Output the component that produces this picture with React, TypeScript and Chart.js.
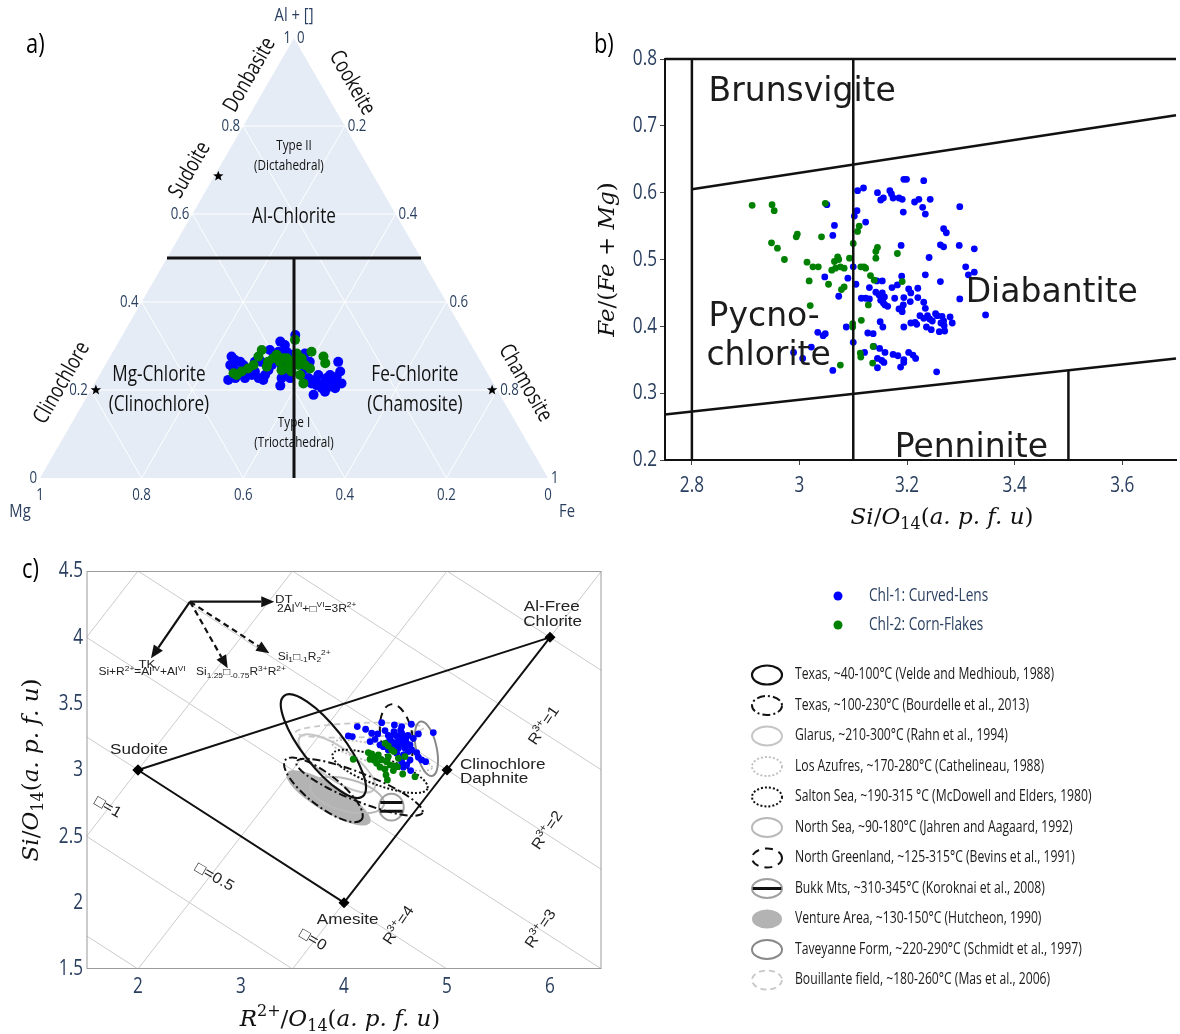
import React, { useEffect, useRef } from 'react';
import { Chart, registerables } from 'chart.js';
Chart.register(...registerables);

const NARROW = "'Open Sans', 'Noto Sans', sans-serif";
const SX = 0.78; // condensed look of the original labels
const MATH = "'DejaVu Serif', 'Liberation Serif', serif";
const ARIAL = "'Liberation Sans', Arial, 'DejaVu Sans', sans-serif";
const GEO = "'DejaVu Sans', 'Liberation Sans', sans-serif";
const AXIS_BLUE = '#2a3f5f';
const BLUE = '#0000ff';
const GREEN = '#008000';

// ---------------- panel a : ternary [Al+[], Mg, Fe] ----------------
const TERN_TICKS = [0, 0.2, 0.4, 0.6, 0.8, 1];
const TERN_GRID = [0.2, 0.4, 0.6, 0.8];
const TERN_CHL1 = [
  [0.276,0.485,0.239],[0.268,0.482,0.250],[0.264,0.474,0.262],[0.257,0.497,0.246],[0.249,0.495,0.256],
  [0.223,0.518,0.259],[0.227,0.502,0.271],[0.234,0.493,0.273],[0.257,0.471,0.272],[0.249,0.469,0.282],
  [0.238,0.471,0.291],[0.227,0.483,0.290],[0.234,0.466,0.300],[0.242,0.456,0.302],[0.227,0.456,0.317],
  [0.223,0.449,0.328],[0.234,0.440,0.326],[0.245,0.428,0.327],[0.257,0.415,0.328],[0.272,0.405,0.323],
  [0.287,0.387,0.326],[0.310,0.372,0.318],[0.302,0.367,0.331],[0.287,0.371,0.342],[0.257,0.396,0.347],
  [0.242,0.393,0.365],[0.227,0.411,0.362],[0.210,0.422,0.368],[0.227,0.394,0.379],[0.325,0.335,0.340],
  [0.264,0.363,0.373],[0.234,0.368,0.398],[0.249,0.354,0.397],[0.227,0.358,0.415],[0.215,0.358,0.427],
  [0.189,0.367,0.444],[0.211,0.350,0.439],[0.234,0.335,0.431],[0.204,0.343,0.453],[0.196,0.341,0.463],
  [0.227,0.322,0.451],[0.234,0.312,0.454],[0.219,0.313,0.468],[0.230,0.301,0.469],[0.264,0.281,0.455],
  [0.242,0.288,0.470],[0.215,0.299,0.486],[0.204,0.317,0.479],[0.208,0.325,0.467],[0.215,0.335,0.450],
  [0.223,0.347,0.430],[0.283,0.337,0.380],[0.276,0.350,0.374],[0.264,0.337,0.399],[0.280,0.364,0.356],
  [0.276,0.399,0.325],[0.264,0.432,0.304],[0.291,0.402,0.307],[0.264,0.445,0.291],[0.242,0.492,0.266],
];
const TERN_CHL2 = [
  [0.238,0.500,0.262],[0.234,0.496,0.270],[0.242,0.482,0.276],[0.249,0.466,0.285],[0.257,0.451,0.292],
  [0.276,0.432,0.292],[0.291,0.418,0.291],[0.253,0.427,0.320],[0.264,0.419,0.317],[0.272,0.405,0.323],
  [0.280,0.394,0.326],[0.264,0.396,0.340],[0.272,0.385,0.343],[0.249,0.393,0.358],[0.261,0.377,0.362],
  [0.264,0.369,0.367],[0.314,0.341,0.345],[0.283,0.353,0.364],[0.257,0.363,0.380],[0.234,0.371,0.395],
  [0.215,0.374,0.411],[0.257,0.350,0.393],[0.287,0.322,0.391],[0.249,0.344,0.407],[0.276,0.304,0.420],
  [0.261,0.308,0.431],[0.242,0.384,0.374],[0.272,0.378,0.350],[0.276,0.357,0.367],[0.272,0.349,0.379],
  [0.245,0.402,0.353],
];
const TERN_DIVIDERS = [
  [[0.5, 0.5, 0], [0.5, 0, 0.5]],
  [[0.5, 0.25, 0.25], [0, 0.5, 0.5]],
];
const TERN_STARS = [[0.686, 0.306, 0.008], [0.2, 0.79, 0.01], [0.2, 0.01, 0.79]];
// label anchors in the triangle's cartesian frame (x along base 0..1, y = Al height 0..1)
const TERN_LABELS = [
  { t: 'Donbasite', x: 0.413, y: 0.916, rot: -60, size: 22 },
  { t: 'Cookeite', x: 0.614, y: 0.898, rot: 60, size: 22 },
  { t: 'Sudoite', x: 0.295, y: 0.700, rot: -60, size: 22 },
  { t: 'Clinochlore', x: 0.043, y: 0.216, rot: -60, size: 22 },
  { t: 'Chamosite', x: 0.955, y: 0.216, rot: 60, size: 22 },
  { t: 'Type II', x: 0.500, y: 0.755, rot: 0, size: 15 },
  { t: '(Dictahedral)', x: 0.490, y: 0.709, rot: 0, size: 15 },
  { t: 'Al-Chlorite', x: 0.500, y: 0.593, rot: 0, size: 22 },
  { t: 'Mg-Chlorite', x: 0.234, y: 0.234, rot: 0, size: 22 },
  { t: '(Clinochlore)', x: 0.234, y: 0.166, rot: 0, size: 22 },
  { t: 'Fe-Chlorite', x: 0.738, y: 0.234, rot: 0, size: 22 },
  { t: '(Chamosite)', x: 0.738, y: 0.166, rot: 0, size: 22 },
  { t: 'Type I', x: 0.500, y: 0.125, rot: 0, size: 15 },
  { t: '(Trioctahedral)', x: 0.500, y: 0.080, rot: 0, size: 15 },
];

// ---------------- panel b : Si vs Fe/(Fe+Mg) ----------------
const B_XTICKS = [2.8, 3.0, 3.2, 3.4, 3.6];
const B_YTICKS = [0.2, 0.3, 0.4, 0.5, 0.6, 0.7, 0.8];
const B_CHL1 = [
  [3.194,0.620],[3.199,0.620],[3.231,0.618],[3.108,0.603],[3.119,0.607],[3.145,0.600],[3.168,0.603],[3.171,0.598],
  [3.174,0.592],[3.151,0.589],[3.156,0.592],[3.185,0.592],[3.191,0.590],[3.214,0.586],[3.222,0.590],[3.243,0.590],
  [3.193,0.571],[3.229,0.578],[3.234,0.568],[3.298,0.579],[3.107,0.573],[3.102,0.565],[3.123,0.556],[3.065,0.551],
  [3.062,0.536],[3.051,0.582],[3.268,0.546],[3.273,0.540],[3.262,0.522],[3.268,0.519],[3.189,0.521],[3.297,0.521],
  [3.325,0.516],[3.241,0.503],[3.309,0.489],[3.325,0.481],[3.314,0.477],[3.234,0.477],[3.262,0.467],[3.298,0.441],
  [3.346,0.417],[3.047,0.474],[3.073,0.445],[3.090,0.472],[3.100,0.489],[3.105,0.463],[3.190,0.475],[3.144,0.468],
  [3.154,0.468],[3.130,0.458],[3.172,0.458],[3.182,0.462],[3.115,0.442],[3.123,0.442],[3.130,0.441],[3.142,0.451],
  [3.148,0.447],[3.154,0.450],[3.158,0.444],[3.151,0.439],[3.156,0.435],[3.164,0.430],[3.159,0.432],[3.177,0.442],
  [3.194,0.443],[3.203,0.456],[3.207,0.450],[3.206,0.437],[3.193,0.432],[3.185,0.426],[3.191,0.422],[3.190,0.427],
  [3.220,0.457],[3.220,0.443],[3.231,0.436],[3.234,0.427],[3.238,0.416],[3.224,0.416],[3.231,0.412],[3.242,0.411],
  [3.253,0.419],[3.256,0.416],[3.247,0.408],[3.265,0.415],[3.268,0.408],[3.263,0.405],[3.269,0.401],[3.280,0.414],
  [3.284,0.405],[3.260,0.392],[3.270,0.393],[3.245,0.395],[3.236,0.399],[3.218,0.403],[3.215,0.406],[3.207,0.405],
  [3.194,0.399],[3.150,0.407],[3.155,0.399],[3.127,0.390],[3.137,0.389],[3.087,0.399],[3.100,0.376],[3.048,0.389],
  [3.044,0.386],[3.034,0.391],[3.022,0.369],[2.989,0.361],[3.006,0.352],[3.062,0.334],[3.121,0.361],[3.138,0.370],
  [3.149,0.367],[3.159,0.361],[3.145,0.352],[3.153,0.349],[3.157,0.346],[3.145,0.338],[3.174,0.358],[3.183,0.356],
  [3.194,0.350],[3.188,0.339],[3.203,0.361],[3.211,0.357],[3.216,0.352],[3.194,0.346],[3.255,0.332],
];
const B_CHL2 = [
  [2.912,0.581],[2.949,0.582],[2.953,0.573],[2.948,0.525],[2.959,0.517],[3.048,0.584],[2.996,0.538],[2.994,0.534],
  [3.041,0.534],[2.972,0.500],[3.014,0.496],[3.025,0.489],[3.035,0.489],[3.018,0.468],[3.054,0.463],[3.060,0.484],
  [3.067,0.487],[3.076,0.489],[3.065,0.497],[3.071,0.504],[3.073,0.500],[3.083,0.487],[3.093,0.502],[3.078,0.455],
  [3.083,0.459],[3.100,0.524],[3.108,0.542],[3.111,0.550],[3.020,0.431],[3.114,0.489],[3.120,0.489],[3.123,0.487],
  [3.132,0.476],[3.139,0.469],[3.128,0.432],[3.115,0.409],[3.099,0.404],[3.099,0.399],[3.113,0.360],[3.114,0.354],
  [3.136,0.345],[3.137,0.370],[3.076,0.342],[3.142,0.512],[3.145,0.518],[3.142,0.502],[3.182,0.509],[3.191,0.467],
];
const B_FIELD_LINES = [
  [[2.8, 0.2], [2.8, 0.8]],
  [[3.1, 0.2], [3.1, 0.8]],
  [[3.5, 0.2], [3.5, 0.3335]],
  [[2.8, 0.605], [3.7, 0.716]],
  [[2.75, 0.268], [3.7, 0.352]],
  [[2.75, 0.8], [3.7, 0.8]],
];
const B_FIELD_NAMES = [
  { t: 'Brunsvigite', x: 2.831, y: 0.737 },
  { t: 'Diabantite', x: 3.309, y: 0.437 },
  { t: 'Pycno-', x: 2.831, y: 0.400 },
  { t: 'chlorite', x: 2.827, y: 0.342 },
  { t: 'Penninite', x: 3.177, y: 0.204 },
];

// ---------------- panel c : R2+ vs Si ----------------
const C_XTICKS = [2, 3, 4, 5, 6];
const C_YTICKS = [1.5, 2, 2.5, 3, 3.5, 4, 4.5];
const C_CHL1 = [
  [4.129,3.327],[4.210,3.307],[4.042,3.257],[4.081,3.252],[4.269,3.277],[4.327,3.272],[4.366,3.357],[4.398,3.297],
  [4.489,3.340],[4.560,3.327],[4.654,3.345],[4.867,3.282],[4.722,3.272],[4.253,3.214],[4.301,3.231],[4.350,3.189],
  [4.447,3.239],[4.511,3.257],[4.576,3.252],[4.544,3.214],[4.608,3.201],[4.463,3.176],[4.528,3.164],[4.592,3.164],
  [4.641,3.189],[4.673,3.239],[4.485,3.289],[4.560,3.277],[4.421,3.206],[4.511,3.126],[4.576,3.114],[4.625,3.139],
  [4.657,3.151],[4.706,3.131],[4.754,3.076],[4.793,3.063],[4.722,3.096],[4.641,3.076],[4.608,3.038],[4.576,3.021],
  [4.647,2.996],[4.430,3.151],[4.382,3.176],[4.560,3.063],[4.500,3.200],[4.530,3.230],[4.470,3.210],[4.580,3.190],
  [4.490,3.270],[4.550,3.300],[4.620,3.260],[4.430,3.260],[4.520,3.180],[4.600,3.230],
];
const C_CHL2 = [
  [4.090,3.081],[4.236,3.131],[4.269,3.121],[4.253,3.081],[4.311,3.096],[4.333,3.113],[4.398,3.201],[4.430,3.181],
  [4.463,3.151],[4.485,3.139],[4.366,3.076],[4.414,3.063],[4.350,3.021],[4.398,3.006],[4.447,3.038],[4.495,3.031],
  [4.528,3.088],[4.592,3.101],[4.408,2.963],[4.421,2.925],[4.570,2.970],[4.689,2.950],[4.317,3.051],[4.291,3.076],
  [4.430,3.101],[4.518,3.025],[4.479,2.996],
];
// end-members: Sudoite, Al-free chlorite, Clinochlore/Daphnite, Amesite (closing back to Sudoite)
const C_ENDMEMBERS = [[2, 3], [6, 4], [5, 3], [4, 2], [2, 3]];
const C_R3_LEVELS = [0, 1, 2, 3, 4, 5, 6];
const C_VAC_LEVELS = [0, 0.5, 1, 1.5];
const C_ARROW_ORIGIN = [2.505, 4.269];
const C_ARROWS = [
  { to: [3.323, 4.269], dashed: false },
  { to: [2.126, 3.842], dashed: false },
  { to: [2.871, 3.767], dashed: true },
  { to: [3.275, 3.880], dashed: true },
];
const C_ELLIPSES = [
  { key: 'venture', cx: 3.85, cy: 2.79, a: 0.47, b: 0.135, rot: 31 },
  { key: 'glarus', cx: 3.93, cy: 3.05, a: 0.44, b: 0.155, rot: 35 },
  { key: 'northsea', cx: 4.03, cy: 2.81, a: 0.37, b: 0.155, rot: 15 },
  { key: 'bouillante', cx: 4.15, cy: 3.30, a: 0.62, b: 0.07, rot: -2 },
  { key: 'azufres', cx: 4.37, cy: 3.11, a: 0.50, b: 0.09, rot: 14 },
  { key: 'taveyanne', cx: 4.80, cy: 3.16, a: 0.10, b: 0.27, rot: -12 },
  { key: 'bukk', cx: 4.46, cy: 2.72, a: 0.12, b: 0.13, rot: 0 },
  { key: 'texas2', cx: 4.15, cy: 2.87, a: 0.66, b: 0.135, rot: 22 },
  { key: 'texas2', cx: 3.80, cy: 2.85, a: 0.47, b: 0.155, rot: 38 },
  { key: 'salton', cx: 4.35, cy: 2.99, a: 0.49, b: 0.135, rot: 20 },
  { key: 'greenland', cx: 4.51, cy: 3.25, a: 0.155, b: 0.32, rot: -10 },
  { key: 'texas1', cx: 3.80, cy: 3.18, a: 0.62, b: 0.2, rot: 52 },
];
const C_LEGEND = [
  { key: 'texas1', t: 'Texas, ~40-100°C (Velde and Medhioub, 1988)' },
  { key: 'texas2', t: 'Texas, ~100-230°C (Bourdelle et al., 2013)' },
  { key: 'glarus', t: 'Glarus, ~210-300°C (Rahn et al., 1994)' },
  { key: 'azufres', t: 'Los Azufres, ~170-280°C (Cathelineau, 1988)' },
  { key: 'salton', t: 'Salton Sea, ~190-315 °C (McDowell and Elders, 1980)' },
  { key: 'northsea', t: 'North Sea, ~90-180°C (Jahren and Aagaard, 1992)' },
  { key: 'greenland', t: 'North Greenland, ~125-315°C (Bevins et al., 1991)' },
  { key: 'bukk', t: 'Bukk Mts, ~310-345°C (Koroknai et al., 2008)' },
  { key: 'venture', t: 'Venture Area, ~130-150°C (Hutcheon, 1990)' },
  { key: 'taveyanne', t: 'Taveyanne Form, ~220-290°C (Schmidt et al., 1997)' },
  { key: 'bouillante', t: 'Bouillante field, ~180-260°C (Mas et al., 2006)' },
];
const C_SERIES_NAMES = ['Chl-1: Curved-Lens', 'Chl-2: Corn-Flakes'];

type Part = { t: string; s?: 'sub' | 'sup'; it?: boolean };

const STYLE: Record<string, any> = {
  texas1: { stroke: '#111', lw: 2.2, dash: [] },
  texas2: { stroke: '#111', lw: 2, dash: [8, 3, 2, 3] },
  glarus: { stroke: '#c6c6c6', lw: 2, dash: [] },
  azufres: { stroke: '#bdbdbd', lw: 1.8, dash: [2, 2] },
  salton: { stroke: '#111', lw: 2, dash: [2, 2] },
  northsea: { stroke: '#b9b9b9', lw: 2, dash: [] },
  greenland: { stroke: '#111', lw: 2, dash: [8, 6] },
  bukk: { stroke: '#a0a0a0', lw: 2, dash: [], bar: true },
  venture: { fill: '#b3b3b3' },
  taveyanne: { stroke: '#888', lw: 2, dash: [] },
  bouillante: { stroke: '#c8c8c8', lw: 1.8, dash: [6, 4] },
};

function ternPt(t: number[]) {
  const s = t[0] + t[1] + t[2];
  const al = t[0] / s, fe = t[2] / s;
  return { x: fe + al / 2, y: al };
}

function txt(ctx: any, s: string, x: number, y: number, o: any) {
  ctx.save();
  ctx.translate(x, y);
  if (o.rot) ctx.rotate((o.rot * Math.PI) / 180);
  if (o.sx) ctx.scale(o.sx, 1);
  ctx.font = o.font;
  ctx.fillStyle = o.color || '#000';
  ctx.textAlign = o.align || 'center';
  ctx.textBaseline = o.baseline || 'middle';
  ctx.fillText(s, 0, 0);
  ctx.restore();
}

function narrow(ctx: any, s: string, x: number, y: number, size: number, color: string, align = 'center', rot = 0) {
  txt(ctx, s, x, y, { font: `${size}px ${NARROW}`, color, align, rot, sx: SX });
}

function rich(ctx: any, parts: Part[], x: number, y: number, size: number, family: string, color: string, align: string, rot = 0, sx = 1) {
  ctx.save();
  ctx.translate(x, y);
  if (rot) ctx.rotate((rot * Math.PI) / 180);
  ctx.scale(sx, 1);
  ctx.fillStyle = color;
  ctx.textBaseline = 'alphabetic';
  ctx.textAlign = 'left';
  const fontOf = (p: Part) => `${p.it ? 'italic ' : ''}${p.s ? Math.round(size * 0.68) : size}px ${family}`;
  let w = 0;
  for (const p of parts) { ctx.font = fontOf(p); w += ctx.measureText(p.t).width; }
  let cx = align === 'center' ? -w / 2 : 0;
  for (const p of parts) {
    ctx.font = fontOf(p);
    const dy = p.s === 'sub' ? size * 0.22 : p.s === 'sup' ? -size * 0.42 : 0;
    ctx.fillText(p.t, cx, dy + size * 0.35);
    cx += ctx.measureText(p.t).width;
  }
  ctx.restore();
}

function drawEllipseShape(ctx: any, key: string, x: number, y: number, rx: number, ry: number, rot: number, bars: number[]) {
  const st = STYLE[key];
  ctx.save();
  ctx.translate(x, y);
  ctx.rotate((rot * Math.PI) / 180);
  ctx.beginPath();
  ctx.ellipse(0, 0, rx, ry, 0, 0, Math.PI * 2);
  if (st.fill) { ctx.fillStyle = st.fill; ctx.fill(); }
  if (st.stroke) {
    ctx.strokeStyle = st.stroke; ctx.lineWidth = st.lw; ctx.setLineDash(st.dash || []); ctx.stroke();
  }
  if (st.bar) {
    ctx.setLineDash([]);
    ctx.strokeStyle = '#111'; ctx.lineWidth = 3;
    for (const f of bars) {
      const yy = f * ry;
      const hw = rx * Math.sqrt(Math.max(0, 1 - f * f)) * 0.95;
      ctx.beginPath(); ctx.moveTo(-hw, yy); ctx.lineTo(hw, yy); ctx.stroke();
    }
  }
  ctx.restore();
}

function mathTitle(kind: string): Part[] {
  if (kind === 'si') return [{ t: 'Si', it: true }, { t: '/' }, { t: 'O', it: true }, { t: '14', s: 'sub' }, { t: '(' }, { t: 'a. p. f. u', it: true }, { t: ')' }];
  if (kind === 'r2') return [{ t: 'R', it: true }, { t: '2+', s: 'sup' }, { t: '/' }, { t: 'O', it: true }, { t: '14', s: 'sub' }, { t: '(' }, { t: 'a. p. f. u', it: true }, { t: ')' }];
  return [{ t: 'Fe', it: true }, { t: '/(' }, { t: 'Fe', it: true }, { t: ' + ' }, { t: 'Mg', it: true }, { t: ')' }];
}

const baseOpts = {
  animation: false as const,
  responsive: false,
  events: [] as any[],
  plugins: { legend: { display: false }, tooltip: { enabled: false } },
};

function pts(arr: number[][]) { return arr.map((p) => ({ x: p[0], y: p[1] })); }

function makeTernary(canvas: HTMLCanvasElement) {
  const plugin = {
    id: 'ternBg',
    beforeDatasetsDraw(chart: any) {
      const { ctx } = chart;
      const sx = chart.scales.x, sy = chart.scales.y;
      const pix = (t: number[]) => { const p = ternPt(t); return [sx.getPixelForValue(p.x), sy.getPixelForValue(p.y)]; };
      ctx.save();
      const A = pix([1, 0, 0]), M = pix([0, 1, 0]), F = pix([0, 0, 1]);
      ctx.beginPath(); ctx.moveTo(A[0], A[1]); ctx.lineTo(M[0], M[1]); ctx.lineTo(F[0], F[1]); ctx.closePath();
      ctx.fillStyle = '#e5ecf6'; ctx.fill();
      ctx.strokeStyle = '#ffffff'; ctx.lineWidth = 1;
      const seg = (p: number[], q: number[]) => { ctx.beginPath(); ctx.moveTo(p[0], p[1]); ctx.lineTo(q[0], q[1]); ctx.stroke(); };
      for (const k of TERN_GRID) {
        seg(pix([k, 1 - k, 0]), pix([k, 0, 1 - k]));
        seg(pix([0, k, 1 - k]), pix([1 - k, k, 0]));
        seg(pix([0, 1 - k, k]), pix([1 - k, 0, k]));
      }
      const fmt = (k: number) => (k === 0 ? '0' : k === 1 ? '1' : k.toFixed(1));
      for (const k of TERN_TICKS) {
        const a = pix([k, 1 - k, 0]); narrow(ctx, fmt(k), a[0] - 3, a[1], 17, AXIS_BLUE, 'right');
        const f = pix([1 - k, 0, k]); narrow(ctx, fmt(k), f[0] + 3, f[1], 17, AXIS_BLUE, 'left');
        const m = pix([0, k, 1 - k]); narrow(ctx, fmt(k), m[0], m[1] + 17, 17, AXIS_BLUE, 'center');
      }
      narrow(ctx, 'Al + []', A[0], A[1] - 22, 19, AXIS_BLUE);
      narrow(ctx, 'Mg', M[0] - 20, M[1] + 34, 19, AXIS_BLUE);
      narrow(ctx, 'Fe', F[0] + 19, F[1] + 34, 19, AXIS_BLUE);
      for (const l of TERN_LABELS) {
        narrow(ctx, l.t, sx.getPixelForValue(l.x), sy.getPixelForValue(l.y), l.size, '#111', 'center', l.rot);
      }
      narrow(ctx, 'a)', 26, 45, 28, '#000', 'left');
      ctx.restore();
    },
    afterDatasetsDraw(chart: any) {
      const { ctx } = chart;
      const sx = chart.scales.x, sy = chart.scales.y;
      ctx.save();
      ctx.fillStyle = '#000';
      for (const s of TERN_STARS) {
        const p = ternPt(s);
        const cx = sx.getPixelForValue(p.x), cy = sy.getPixelForValue(p.y);
        ctx.beginPath();
        for (let i = 0; i < 10; i++) {
          const r = i % 2 === 0 ? 5.5 : 2.3;
          const ang = -Math.PI / 2 + (i * Math.PI) / 5;
          const X = cx + r * Math.cos(ang), Y = cy + r * Math.sin(ang);
          if (i === 0) ctx.moveTo(X, Y); else ctx.lineTo(X, Y);
        }
        ctx.closePath(); ctx.fill();
      }
      ctx.restore();
    },
  };
  const lineSets = TERN_DIVIDERS.map((d) => ({
    data: d.map((t) => ternPt(t)), showLine: true, borderColor: '#111', borderWidth: 3, pointRadius: 0, order: 0,
  }));
  return new Chart(canvas, {
    type: 'scatter',
    data: {
      datasets: [
        ...lineSets,
        { data: TERN_CHL2.map(ternPt), pointBackgroundColor: GREEN, pointBorderWidth: 0, pointRadius: 5, order: 1 },
        { data: TERN_CHL1.map(ternPt), pointBackgroundColor: BLUE, pointBorderWidth: 0, pointRadius: 5, order: 2 },
      ] as any,
    },
    options: {
      ...baseOpts,
      layout: { padding: { left: 40, right: 42, top: 38, bottom: 52 } },
      scales: {
        x: { type: 'linear', min: 0, max: 1, display: false },
        y: { type: 'linear', min: 0, max: 1, display: false },
      },
    } as any,
    plugins: [plugin],
  });
}

function makeB(canvas: HTMLCanvasElement) {
  const plugin = {
    id: 'bDeco',
    afterDatasetsDraw(chart: any) {
      const { ctx } = chart;
      const sx = chart.scales.x, sy = chart.scales.y;
      ctx.save();
      for (const n of B_FIELD_NAMES) {
        txt(ctx, n.t, sx.getPixelForValue(n.x), sy.getPixelForValue(n.y), { font: `33px ${GEO}`, color: '#1c1c1c', align: 'left', baseline: 'alphabetic' });
      }
      ctx.restore();
    },
    afterDraw(chart: any) {
      const { ctx, chartArea } = chart;
      const sx = chart.scales.x, sy = chart.scales.y;
      for (const v of B_XTICKS) narrow(ctx, String(Math.round(v * 10) / 10), sx.getPixelForValue(v), 486, 22, AXIS_BLUE);
      for (const v of B_YTICKS) narrow(ctx, v.toFixed(1), 67, sy.getPixelForValue(v), 22, AXIS_BLUE, 'right');
      rich(ctx, mathTitle('si'), 352, 516, 23, MATH, '#111', 'center');
      rich(ctx, mathTitle('fe'), 16, (chartArea.top + chartArea.bottom) / 2, 23, MATH, '#111', 'center', -90);
      narrow(ctx, 'b)', 4, 45, 28, '#000', 'left');
    },
  };
  const lineSets = B_FIELD_LINES.map((l) => ({
    data: pts(l), showLine: true, borderColor: '#111', borderWidth: 2.5, pointRadius: 0, order: 0, clip: 4,
  }));
  return new Chart(canvas, {
    type: 'scatter',
    data: {
      datasets: [
        ...lineSets,
        { data: pts(B_CHL2), pointBackgroundColor: GREEN, pointBorderWidth: 0, pointRadius: 3.4, order: 1 },
        { data: pts(B_CHL1), pointBackgroundColor: BLUE, pointBorderWidth: 0, pointRadius: 3.4, order: 2 },
      ] as any,
    },
    options: {
      ...baseOpts,
      layout: { padding: { left: 0, right: 0, top: 59, bottom: 0 } },
      scales: {
        x: {
          type: 'linear', min: 2.75, max: 3.7,
          afterBuildTicks: (ax: any) => { ax.ticks = B_XTICKS.map((v) => ({ value: v })); },
          afterFit: (ax: any) => { ax.height = 70; },
          ticks: { display: false },
          grid: { display: true, drawOnChartArea: false, drawTicks: true, tickLength: 5, color: '#444' },
          border: { display: true, color: '#111', width: 2 },
        },
        y: {
          type: 'linear', min: 0.2, max: 0.8,
          afterBuildTicks: (ax: any) => { ax.ticks = B_YTICKS.map((v) => ({ value: v })); },
          afterFit: (ax: any) => { ax.width = 75; },
          ticks: { display: false },
          grid: { display: true, drawOnChartArea: false, drawTicks: true, tickLength: 5, color: '#444' },
          border: { display: true, color: '#111', width: 2 },
        },
      },
    } as any,
    plugins: [plugin],
  });
}

function makeC(canvas: HTMLCanvasElement) {
  const plugin = {
    id: 'cDeco',
    beforeDatasetsDraw(chart: any) {
      const { ctx, chartArea: ca } = chart;
      const sx = chart.scales.x, sy = chart.scales.y;
      const X = (v: number) => sx.getPixelForValue(v), Y = (v: number) => sy.getPixelForValue(v);
      const ux = X(1) - X(0);
      ctx.save();
      ctx.beginPath(); ctx.rect(ca.left, ca.top, ca.width, ca.height); ctx.clip();
      // iso-R3+ and iso-vacancy lines (charge balance on O10(OH)8)
      ctx.strokeStyle = '#cbcbcb'; ctx.lineWidth = 1;
      const seg = (x0: number, y0: number, x1: number, y1: number) => { ctx.beginPath(); ctx.moveTo(X(x0), Y(y0)); ctx.lineTo(X(x1), Y(y1)); ctx.stroke(); };
      for (const k of C_R3_LEVELS) { const f = (r: number) => (28 - 3 * k) / 4 - r / 2; seg(1.5, f(1.5), 6.5, f(6.5)); }
      for (const k of C_VAC_LEVELS) { const f = (r: number) => r + 3 * k - 2; seg(1.5, f(1.5), 6.5, f(6.5)); }
      for (const e of C_ELLIPSES) {
        drawEllipseShape(ctx, e.key, X(e.cx), Y(e.cy), e.a * ux, e.b * ux, e.rot, [-0.35, 0.3]);
      }
      const o = C_ARROW_ORIGIN;
      for (const a of C_ARROWS) {
        const x0 = X(o[0]), y0 = Y(o[1]), x1 = X(a.to[0]), y1 = Y(a.to[1]);
        const ang = Math.atan2(y1 - y0, x1 - x0);
        const hl = 13, hw = 5.5;
        const bx = x1 - hl * Math.cos(ang), by = y1 - hl * Math.sin(ang);
        ctx.strokeStyle = '#111'; ctx.lineWidth = 2.2; ctx.setLineDash(a.dashed ? [6, 4] : []);
        ctx.beginPath(); ctx.moveTo(x0, y0); ctx.lineTo(bx, by); ctx.stroke();
        ctx.setLineDash([]); ctx.fillStyle = '#111';
        ctx.beginPath(); ctx.moveTo(x1, y1);
        ctx.lineTo(bx + hw * Math.sin(ang), by - hw * Math.cos(ang));
        ctx.lineTo(bx - hw * Math.sin(ang), by + hw * Math.cos(ang));
        ctx.closePath(); ctx.fill();
      }
      const lf = `14px ${ARIAL}`;
      const col = '#222';
      txt(ctx, 'Sudoite', X(2.010), Y(3.151), { font: lf, color: col, sx: 1.22 });
      txt(ctx, 'Al-Free', X(6.017), Y(4.226), { font: lf, color: col, sx: 1.22 });
      txt(ctx, 'Chlorite', X(6.026), Y(4.118), { font: lf, color: col, sx: 1.22 });
      txt(ctx, 'Clinochlore', X(5.126), Y(3.038), { font: lf, color: col, sx: 1.22, align: 'left' });
      txt(ctx, 'Daphnite', X(5.126), Y(2.930), { font: lf, color: col, sx: 1.22, align: 'left' });
      txt(ctx, 'Amesite', X(4.036), Y(1.870), { font: lf, color: col, sx: 1.22 });
      const vf = `15px ${ARIAL}`;
      txt(ctx, '\u25A1=1', X(1.706), Y(2.719), { font: vf, color: col, rot: 30, sx: 1.1 });
      txt(ctx, '\u25A1=0.5', X(2.741), Y(2.192), { font: vf, color: col, rot: 30, sx: 1.1 });
      txt(ctx, '\u25A1=0', X(3.696), Y(1.719), { font: vf, color: col, rot: 30, sx: 1.1 });
      const r3 = (n: string): Part[] => [{ t: 'R' }, { t: '3+', s: 'sup' }, { t: '=' + n }];
      rich(ctx, r3('1'), X(5.935), Y(3.339), 15, ARIAL, col, 'center', -56, 1.1);
      rich(ctx, r3('2'), X(5.968), Y(2.548), 15, ARIAL, col, 'center', -56, 1.1);
      rich(ctx, r3('3'), X(5.903), Y(1.807), 15, ARIAL, col, 'center', -56, 1.1);
      rich(ctx, r3('4'), X(4.524), Y(1.832), 15, ARIAL, col, 'center', -56, 1.1);
      const sf = 10;
      rich(ctx, [{ t: 'DT' }], X(3.330), Y(4.289), 11, ARIAL, col, 'left', 0, 1.2);
      rich(ctx, [{ t: '2Al' }, { t: 'VI', s: 'sup' }, { t: '+\u25A1' }, { t: 'VI', s: 'sup' }, { t: '=3R' }, { t: '2+', s: 'sup' }], X(3.350), Y(4.221), sf, ARIAL, col, 'left', 0, 1.2);
      rich(ctx, [{ t: 'TK' }], X(2.087), Y(3.799), 11, ARIAL, col, 'center', 0, 1.2);
      rich(ctx, [{ t: 'Si+R' }, { t: '2+', s: 'sup' }, { t: '=Al' }, { t: 'IV', s: 'sup' }, { t: '+Al' }, { t: 'VI', s: 'sup' }], X(2.039), Y(3.739), sf, ARIAL, col, 'center', 0, 1.2);
      rich(ctx, [{ t: 'Si' }, { t: '1.25', s: 'sub' }, { t: '\u25A1' }, { t: '-0.75', s: 'sub' }, { t: 'R' }, { t: '3+', s: 'sup' }, { t: 'R' }, { t: '2+', s: 'sup' }], X(2.563), Y(3.739), sf, ARIAL, col, 'left', 0, 1.2);
      rich(ctx, [{ t: 'Si' }, { t: '1', s: 'sub' }, { t: '\u25A1' }, { t: '-1', s: 'sub' }, { t: 'R' }, { t: '2', s: 'sub' }, { t: '2+', s: 'sup' }], X(3.356), Y(3.859), sf, ARIAL, col, 'left', 0, 1.2);
      ctx.restore();
      ctx.save();
      ctx.strokeStyle = '#9a9a9a'; ctx.lineWidth = 1;
      ctx.strokeRect(ca.left + 0.5, ca.top + 0.5, ca.width - 1, ca.height - 1);
      ctx.restore();
    },
    afterDraw(chart: any) {
      const { ctx, chartArea: ca } = chart;
      const sx = chart.scales.x, sy = chart.scales.y;
      for (const v of C_XTICKS) narrow(ctx, String(v), sx.getPixelForValue(v), 447, 22, AXIS_BLUE);
      for (const v of C_YTICKS) narrow(ctx, String(v), 83, sy.getPixelForValue(v), 22, AXIS_BLUE, 'right');
      rich(ctx, mathTitle('r2'), (ca.left + ca.right) / 2 - 4, 478, 23, MATH, '#111', 'center');
      rich(ctx, mathTitle('si'), 30, (ca.top + ca.bottom) / 2, 23, MATH, '#111', 'center', -90);
      narrow(ctx, 'c)', 22, 30, 28, '#000', 'left');
      const cols = [BLUE, GREEN];
      C_SERIES_NAMES.forEach((n, i) => {
        const yy = 56 + i * 29;
        ctx.save(); ctx.fillStyle = cols[i]; ctx.beginPath(); ctx.arc(838, yy, 4.5, 0, Math.PI * 2); ctx.fill(); ctx.restore();
        narrow(ctx, n, 869, yy, 17.5, AXIS_BLUE, 'left');
      });
      C_LEGEND.forEach((l, i) => {
        const yy = 135 + i * 30.5;
        drawEllipseShape(ctx, l.key, 767, yy, 15, 9.5, 0, [0]);
        narrow(ctx, l.t, 795, yy, 15.6, '#1a1a1a', 'left');
      });
    },
  };
  return new Chart(canvas, {
    type: 'scatter',
    data: {
      datasets: [
        { data: pts(C_ENDMEMBERS), showLine: true, borderColor: '#111', borderWidth: 2, pointStyle: 'rectRot', pointRadius: 5.5, pointBackgroundColor: '#000', pointBorderWidth: 0, order: 3 },
        { data: pts(C_CHL2), pointBackgroundColor: GREEN, pointBorderWidth: 0, pointRadius: 3.4, order: 1 },
        { data: pts(C_CHL1), pointBackgroundColor: BLUE, pointBorderWidth: 0, pointRadius: 3.4, order: 2 },
      ] as any,
    },
    options: {
      ...baseOpts,
      layout: { padding: { left: 0, right: 578.5, top: 31, bottom: 0 } },
      scales: {
        x: {
          type: 'linear', min: 1.5, max: 6.5,
          afterBuildTicks: (ax: any) => { ax.ticks = C_XTICKS.map((v) => ({ value: v })); },
          afterFit: (ax: any) => { ax.height = 65; },
          ticks: { display: false },
          grid: { display: false, drawTicks: false },
          border: { display: false },
        },
        y: {
          type: 'linear', min: 1.5, max: 4.5,
          afterBuildTicks: (ax: any) => { ax.ticks = C_YTICKS.map((v) => ({ value: v })); },
          afterFit: (ax: any) => { ax.width = 86.5; },
          ticks: { display: false },
          grid: { display: false, drawTicks: false },
          border: { display: false },
        },
      },
    } as any,
    plugins: [plugin],
  });
}

export default function App() {
  const aRef = useRef<HTMLCanvasElement>(null);
  const bRef = useRef<HTMLCanvasElement>(null);
  const cRef = useRef<HTMLCanvasElement>(null);
  useEffect(() => {
    const charts: Chart[] = [];
    if (aRef.current) charts.push(makeTernary(aRef.current));
    if (bRef.current) charts.push(makeB(bRef.current));
    if (cRef.current) charts.push(makeC(cRef.current));
    return () => charts.forEach((c) => c.destroy());
  }, []);
  return (
    <div style={{ position: 'absolute', left: 0, top: 0, width: 1180, height: 1034, background: '#fff', overflow: 'hidden' }}>
      <canvas ref={aRef} width={590} height={530} style={{ position: 'absolute', left: 0, top: 0, width: 590, height: 530 }} />
      <canvas ref={bRef} width={590} height={530} style={{ position: 'absolute', left: 590, top: 0, width: 590, height: 530 }} />
      <canvas ref={cRef} width={1180} height={494} style={{ position: 'absolute', left: 0, top: 540, width: 1180, height: 494 }} />
    </div>
  );
}
